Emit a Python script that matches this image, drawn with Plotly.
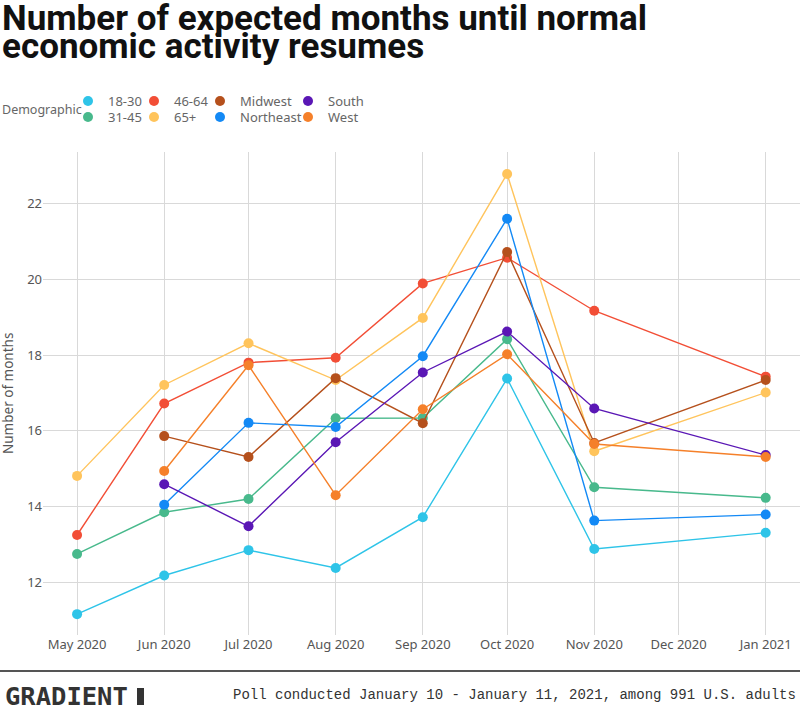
import plotly.graph_objects as go

# ---------------- data ----------------
months = ['2020-05-01', '2020-06-01', '2020-07-01', '2020-08-01',
          '2020-09-01', '2020-10-01', '2020-11-01', '2021-01-01']

age_18_30 = [11.16, 12.18, 12.85, 12.38, 13.72, 17.38, 12.88, 13.31]
age_31_45 = [12.75, 13.85, 14.20, 16.33, 16.34, 18.42, 14.51, 14.23]
age_46_64 = [13.25, 16.72, 17.80, 17.93, 19.89, 20.57, 19.17, 17.43]
age_65_up = [14.81, 17.21, 18.31, 17.34, 18.98, 22.78, 15.46, 17.01]
midwest   = [None, 15.86, 15.31, 17.39, 16.20, 20.72, 15.68, 17.34]
northeast = [None, 14.05, 16.21, 16.10, 17.97, 21.60, 13.63, 13.79]
south     = [None, 14.59, 13.48, 15.70, 17.54, 18.62, 16.59, 15.36]
west      = [None, 14.94, 17.73, 14.30, 16.57, 18.02, 15.65, 15.31]

series_names = ['18-30', '31-45', '46-64', '65+', 'Midwest', 'Northeast', 'South', 'West']
series_values = [age_18_30, age_31_45, age_46_64, age_65_up, midwest, northeast, south, west]
series_colors = ['#2ec4e8', '#48b98c', '#f24e36', '#ffc45c', '#b5501c', '#1389f5', '#5a17b5', '#f5802a']

title_line1 = 'Number of expected months until normal'
title_line2 = 'economic activity resumes'
footer_text = 'Poll conducted January 10 - January 11, 2021, among 991 U.S. adults'

# ---------------- layout helpers ----------------
W, H = 800, 711
ML, MR, MT, MB = 43, 0, 152, 76
PW, PH = W - ML - MR, H - MT - MB


def px(x):
    return (x - ML) / PW


def py(y):
    return (H - MB - y) / PH


# legend positions: (text start x, row center y)
col_text_x = [108, 174, 240, 328]
row_y = [101, 117]
legend_slots = {
    '18-30': (0, 0), '31-45': (0, 1), '46-64': (1, 0), '65+': (1, 1),
    'Midwest': (2, 0), 'Northeast': (2, 1), 'South': (3, 0), 'West': (3, 1),
}

fig = go.Figure()
layout_legends = {}
# data traces
for name, vals, col in zip(series_names, series_values, series_colors):
    fig.add_trace(go.Scatter(
        x=months, y=vals, name=name, mode='lines+markers',
        line=dict(color=col, width=1.4),
        marker=dict(color=col, size=10),
        legendgroup=name, showlegend=False,
    ))
# legend entries (one small legend per entry so they sit in a 4x2 grid)
for i, (name, col) in enumerate(zip(series_names, series_colors)):
    lname = 'legend' if i == 0 else f'legend{i + 1}'
    fig.add_trace(go.Scatter(
        x=[None], y=[None], name=name, mode='markers',
        marker=dict(color=col, size=10),
        legendgroup=name, showlegend=True, legend=lname, hoverinfo='skip',
    ))
    c, r = legend_slots[name]
    layout_legends[lname] = dict(
        x=px(col_text_x[c] - 40), xanchor='left',
        y=py(row_y[r]), yanchor='middle',
        orientation='v', bgcolor='rgba(0,0,0,0)', borderwidth=0,
        font=dict(family='Noto Sans', size=13, color='#666666'),
    )

fig.update_layout(
    width=W, height=H,
    margin=dict(l=ML, r=MR, t=MT, b=MB, autoexpand=False),
    paper_bgcolor='white', plot_bgcolor='white',
    showlegend=True,
    font=dict(family='Noto Sans', size=13, color='#555555'),
    xaxis=dict(
        type='date', range=['2020-04-18 21:00', '2021-01-13 05:00'],
        dtick='M1', tick0='2020-05-01', tickformat='%b %Y',
        showgrid=True, gridcolor='#d9d9d9', gridwidth=1,
        zeroline=False, showline=False, ticks='',
        tickfont=dict(family='Noto Sans', size=13, color='#555555'),
        automargin=False,
    ),
    yaxis=dict(
        range=[10.61, 23.36], dtick=2, tick0=12,
        showgrid=True, gridcolor='#d9d9d9', gridwidth=1,
        zeroline=False, showline=False, ticks='',
        tickfont=dict(family='Noto Sans', size=13, color='#555555'),
        automargin=False,
    ),
    **layout_legends,
)

annotations = [
    dict(text=f'<b>{title_line1}</b>', x=px(0), y=py(18), xanchor='left', yanchor='middle',
         font=dict(family='Roboto', size=35, color='#111111')),
    dict(text=f'<b>{title_line2}</b>', x=px(0), y=py(46), xanchor='left', yanchor='middle',
         font=dict(family='Roboto', size=35, color='#111111')),
    dict(text='Demographic', x=px(0), y=py(109), xanchor='left', yanchor='middle',
         font=dict(family='Noto Sans', size=12.5, color='#666666')),
    dict(text='Number of months', x=px(8), y=py(394), xanchor='center', yanchor='middle',
         textangle=-90, font=dict(family='Noto Sans', size=13.5, color='#555555')),
    dict(text='<b>GRADIENT</b>', x=px(3), y=py(696), xanchor='left', yanchor='middle',
         font=dict(family='DejaVu Sans Mono', size=25.5, color='#333333')),
    dict(text=footer_text, x=px(798), y=py(695), xanchor='right', yanchor='middle',
         font=dict(family='Liberation Mono', size=14, color='#333333')),
]
for a in annotations:
    a.update(xref='paper', yref='paper', showarrow=False)
fig.update_layout(annotations=annotations)

fig.update_layout(shapes=[
    dict(type='line', xref='paper', yref='paper', x0=px(0), x1=px(800), y0=py(671), y1=py(671),
         line=dict(color='#555555', width=2)),
    dict(type='rect', xref='paper', yref='paper', x0=px(137), x1=px(144), y0=py(705), y1=py(688),
         fillcolor='#333333', line=dict(width=0)),
])

fig.write_html('out.html', config={'displayModeBar': False},
               post_script="document.body.style.margin='0';document.body.style.overflow='hidden';")
